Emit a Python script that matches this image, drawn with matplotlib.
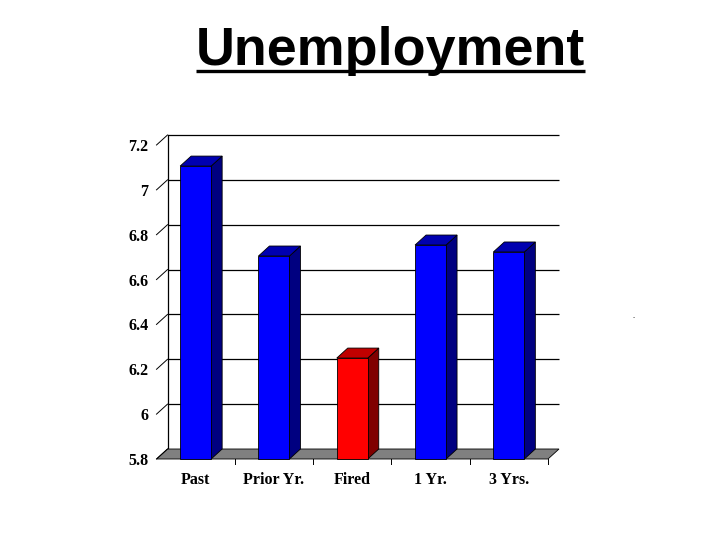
import matplotlib
matplotlib.use("Agg")
import matplotlib.pyplot as plt
from matplotlib.transforms import Affine2D
from matplotlib.lines import Line2D

categories = ["Past", "Prior Yr.", "Fired", "1 Yr.", "3 Yrs."]
values = [7.106, 6.705, 6.25, 6.754, 6.723]
is_red = [False, False, True, False, False]
y_ticks = [5.8, 6.0, 6.2, 6.4, 6.6, 6.8, 7.0, 7.2]
y_labels = ["5.8", "6", "6.2", "6.4", "6.6", "6.8", "7", "7.2"]

W, H = 720, 540
SERIF = "Liberation Serif"
DX, DY = 11.0, 10.0  # depth in pixels

fig = plt.figure(figsize=(W / 100, H / 100), dpi=100, facecolor="white")
L, R, T, B = 156.5, 548.0, 145.0, 459.0
ax = fig.add_axes([L / W, 1 - B / H, (R - L) / W, (B - T) / H])
ax.set_xlim(-0.5, 4.5)
ax.set_ylim(5.8, 7.2)
for s in ax.spines.values():
    s.set_visible(False)
ax.patch.set_visible(False)

back = ax.transData + Affine2D().translate(DX, DY)
ux = DX / ((R - L) / 5)
uy = DY / ((B - T) / 1.4)

# back wall
for v in y_ticks[1:]:
    ax.plot([-0.5, 4.5], [v, v], transform=back, color="black", lw=0.9,
            clip_on=False, zorder=1, solid_capstyle="butt")
ax.plot([-0.5, -0.5], [5.8, 7.2], transform=back, color="black", lw=0.9,
        clip_on=False, zorder=1)

# floor
ax.fill([-0.5, 4.5, 4.5 + ux, -0.5 + ux], [5.8, 5.8, 5.8 + uy, 5.8 + uy],
        facecolor="#808080", edgecolor="black", lw=0.6, clip_on=False, zorder=2)

# slanted wall ticks
for v in y_ticks:
    ax.plot([-0.5, -0.5 + ux], [v, v + uy], color="black", lw=0.7,
            clip_on=False, zorder=2)

# bars
bw = 31 / ((R - L) / 5)
for i, (v, red) in enumerate(zip(values, is_red)):
    front = "#FF0000" if red else "#0000FF"
    side = "#800000" if red else "#000080"
    top = "#C00000" if red else "#0000B0"
    x0, x1 = i - bw / 2, i + bw / 2
    ax.fill([x1, x1 + ux, x1 + ux, x1], [5.8, 5.8 + uy, v + uy, v],
            facecolor=side, edgecolor="black", lw=0.6, clip_on=False, zorder=3)
    ax.fill([x0, x1, x1 + ux, x0 + ux], [v, v, v + uy, v + uy],
            facecolor=top, edgecolor="black", lw=0.6, clip_on=False, zorder=3)
    ax.bar(i, v - 5.8, bottom=5.8, width=bw, color=front, edgecolor="black",
           lw=0.6, zorder=4, clip_on=False)

# axes ticks and labels
ax.set_yticks(y_ticks, y_labels, fontfamily=SERIF, fontweight="bold", fontsize=11.5)
ax.tick_params(axis="y", length=0, pad=6)
ax.set_xticks(range(5), categories, fontfamily=SERIF, fontweight="bold", fontsize=11.5)
ax.tick_params(axis="x", length=0, pad=9)
for b in [0.5, 1.5, 2.5, 3.5, 4.5]:
    ax.plot([b, b], [5.8, 5.8 - 5 / ((B - T) / 1.4)], color="black", lw=0.7,
            clip_on=False, zorder=2)

# title
fig.text(390.5 / W, 1 - 65.5 / H, "Unemployment", ha="center", va="baseline",
         fontfamily="Liberation Sans", fontweight="bold", fontsize=38.8, color="black")
fig.add_artist(Line2D([196 / W, 585 / W], [1 - 70.5 / H] * 2, color="black", lw=2.4,
                      solid_capstyle="butt"))
# small stray dot in the picture
fig.text(634 / W, 1 - 318 / H, ".", ha="center", va="baseline",
         fontfamily=SERIF, fontsize=6, color="black")

fig.savefig("out.png", dpi=100, facecolor="white")
